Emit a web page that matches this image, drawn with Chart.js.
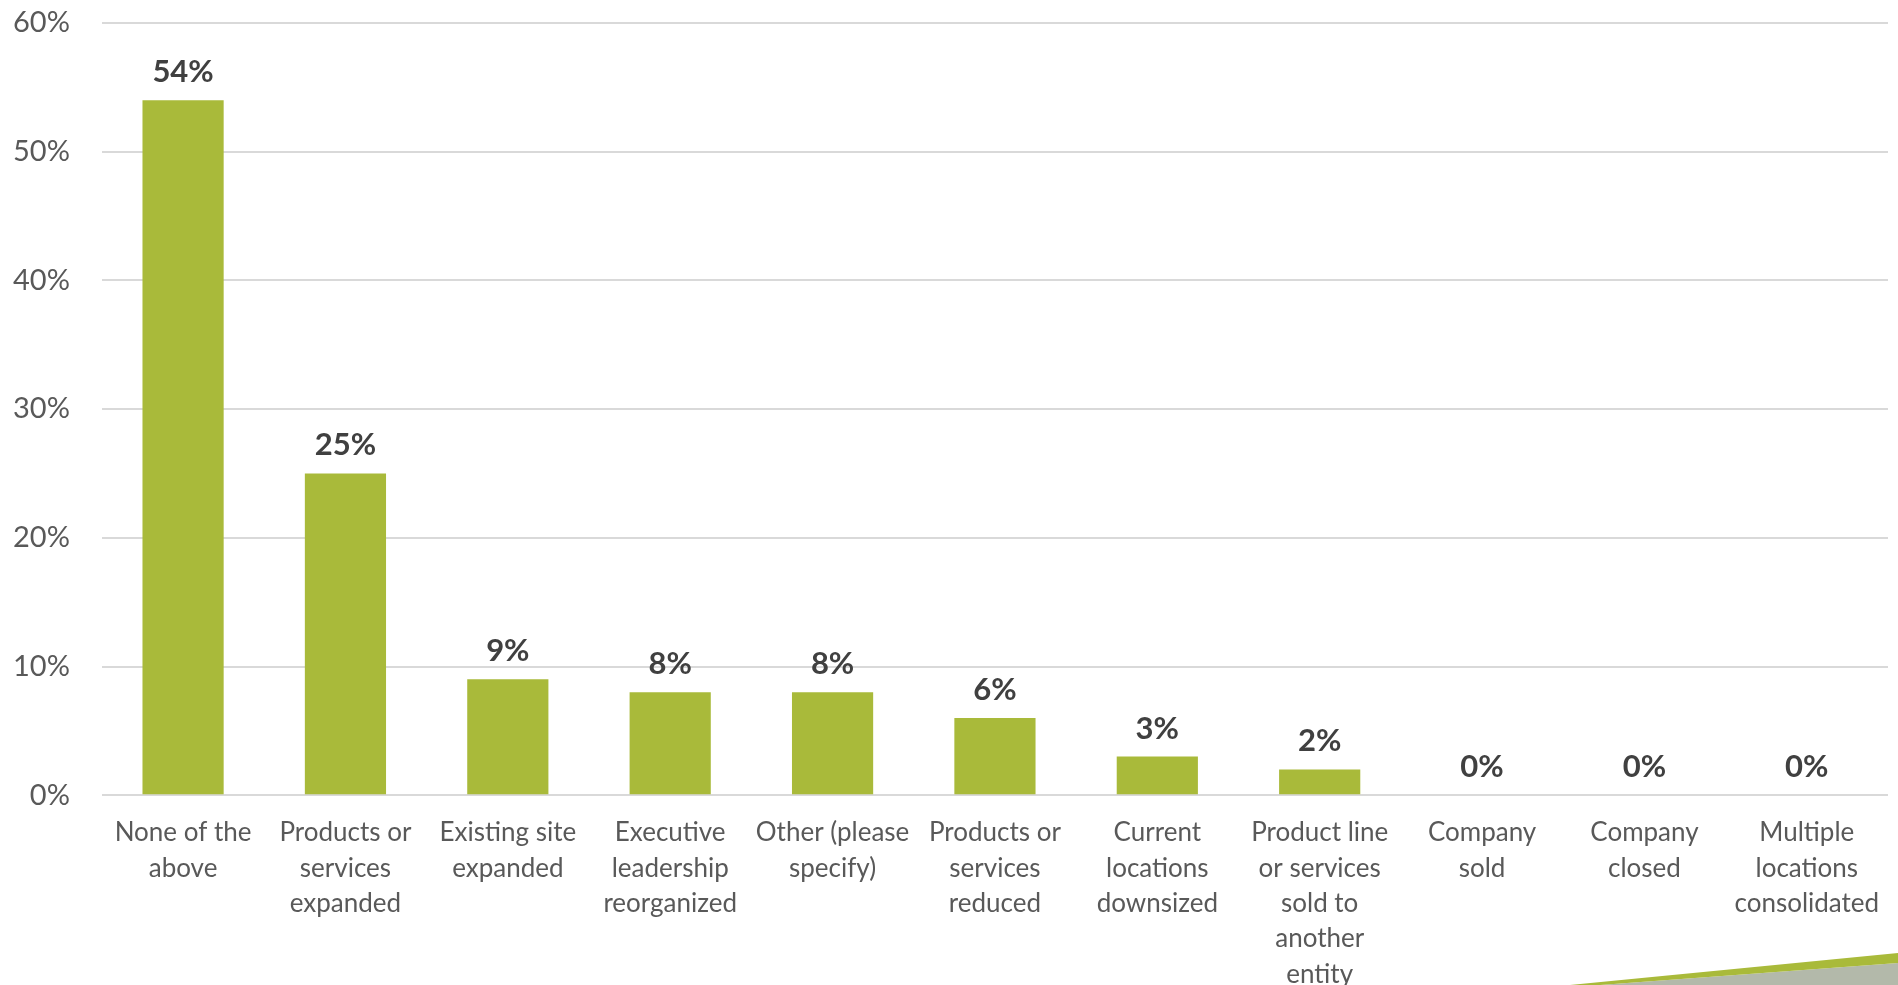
<!DOCTYPE html>
<html>
<head>
  <meta charset="UTF-8">
  <title>Business changes</title>
  <script src="https://cdn.jsdelivr.net/npm/chart.js"></script>
  <style>
    body { margin: 0; background: #fff; overflow: hidden; }
    #wrap { position: relative; width: 1898px; height: 992px; }
    #stripe { position: absolute; left: 0; top: 0; pointer-events: none; }
  </style>
</head>
<body>
  <div id="wrap">
    <canvas id="changesChart"></canvas>
    <svg id="stripe" width="1898" height="985">
      <polygon points="1600,985 1898,963 1898,985" fill="#b3b9aa" />
      <polygon points="1570,985 1898,953 1898,963 1600,985" fill="#a9ba3a" />
    </svg>
  </div>

  <script>
    const categories = [
      ["None of the", "above"],
      ["Products or", "services", "expanded"],
      ["Existing site", "expanded"],
      ["Executive", "leadership", "reorganized"],
      ["Other (please", "specify)"],
      ["Products or", "services", "reduced"],
      ["Current", "locations", "downsized"],
      ["Product line", "or services", "sold to", "another", "entity"],
      ["Company", "sold"],
      ["Company", "closed"],
      ["Multiple", "locations", "consolidated"]
    ];
    const percents = [54, 25, 9, 8, 8, 6, 3, 2, 0, 0, 0];
    const yTicks = [0, 10, 20, 30, 40, 50, 60];

    const FONT = "Lato, 'Noto Sans', sans-serif";

    // value labels above each bar
    const valueLabels = {
      id: 'valueLabels',
      afterDatasetsDraw(chart) {
        const ctx = chart.ctx;
        const meta = chart.getDatasetMeta(0);
        ctx.save();
        ctx.font = "bold 31px " + FONT;
        ctx.fillStyle = "#404040";
        ctx.textAlign = "center";
        ctx.textBaseline = "middle";
        meta.data.forEach((bar, i) => {
          ctx.fillText(percents[i] + "%", bar.x, bar.y - 28);
        });
        ctx.restore();
      }
    };

    new Chart(document.getElementById("changesChart"), {
      type: 'bar',
      data: {
        labels: categories,
        datasets: [{
          data: percents,
          backgroundColor: "#a9ba3a",
          categoryPercentage: 1,
          barPercentage: 0.5
        }]
      },
      options: {
        responsive: true,
        maintainAspectRatio: false,
        animation: false,
        layout: { padding: { top: 23, left: 11, right: 10, bottom: 0 } },
        plugins: {
          legend: { display: false },
          tooltip: { enabled: false }
        },
        scales: {
          x: {
            // invisible tick marks give the gap under the baseline
            grid: { drawOnChartArea: false, drawTicks: true, tickLength: 20, tickColor: "transparent" },
            border: { display: false },
            ticks: {
              autoSkip: false,
              maxRotation: 0,
              minRotation: 0,
              padding: 0,
              color: "#595959",
              font: { family: FONT, size: 26, lineHeight: 1.36 }
            }
          },
          y: {
            min: 0,
            max: 60,
            afterBuildTicks(axis) {
              axis.ticks = yTicks.map(v => ({ value: v }));
            },
            grid: { color: "#d9d9d9", lineWidth: 2, drawTicks: true, tickLength: 30, tickColor: "transparent" },
            border: { display: false },
            ticks: {
              padding: 2,
              color: "#595959",
              font: { family: FONT, size: 29 },
              callback: v => v + "%"
            }
          }
        }
      },
      plugins: [valueLabels]
    });
  </script>
</body>
</html>
